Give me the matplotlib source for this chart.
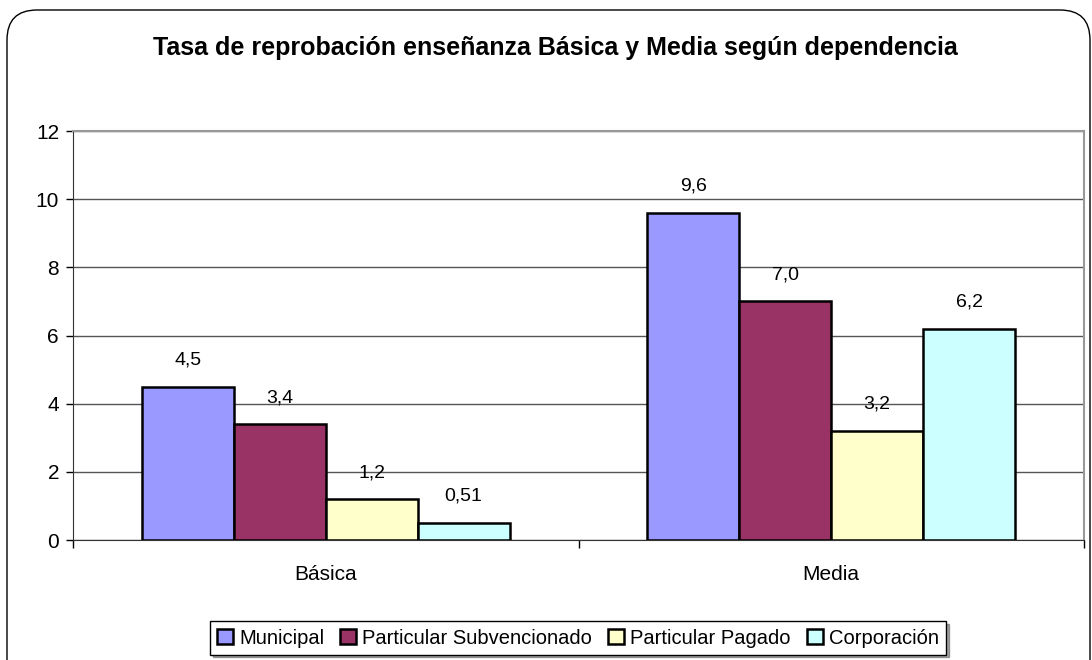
import numpy as np
import matplotlib
matplotlib.use("Agg")
import matplotlib.pyplot as plt
from matplotlib import font_manager
from matplotlib.patches import FancyBboxPatch, Patch
from matplotlib.transforms import IdentityTransform

# data
categories = ['Básica', 'Media']
series = ['Municipal', 'Particular Subvencionado', 'Particular Pagado', 'Corporación']
municipal = [4.5, 9.6]
subvencionado = [3.4, 7.0]
pagado = [1.2, 3.2]
corporacion = [0.51, 6.2]
value_labels = [['4,5', '9,6'], ['3,4', '7,0'], ['1,2', '3,2'], ['0,51', '6,2']]
colors = ['#9999FF', '#993366', '#FFFFCC', '#CCFFFF']

names = {f.name for f in font_manager.fontManager.ttflist}
if 'Liberation Sans Narrow' in names:
    base = 'Liberation Sans Narrow'
else:
    base = 'Liberation Sans'
plt.rcParams['font.family'] = [base, 'DejaVu Sans']

fig = plt.figure(figsize=(10.92, 6.6), dpi=100)
W, H = 1092, 660

# outer rounded frame, pixel coordinates
frame = FancyBboxPatch((7, -40), 1083, 690, boxstyle='round,pad=0,rounding_size=30',
                       transform=IdentityTransform(), facecolor='none',
                       edgecolor='black', linewidth=1.0, zorder=0)
fig.patches.append(frame)

ax = fig.add_axes([73 / W, 1 - 540 / H, (1084 - 73) / W, (540 - 131) / H])
ax.set_facecolor('none')

data = [municipal, subvencionado, pagado, corporacion]
x = np.arange(len(categories))
width = 1 / 5.5
for i, vals in enumerate(data):
    pos = x + (i - 1.5) * width
    ax.bar(pos, vals, width=width, color=colors[i], edgecolor='black',
           linewidth=1.8, zorder=3, label=series[i])
    for xp, v, lab in zip(pos, vals, value_labels[i]):
        ax.annotate(lab, (xp, v), xytext=(0, 13), textcoords='offset points',
                    ha='center', va='bottom', fontsize=14)

ax.set_xlim(-0.5, 1.5)
ax.set_ylim(0, 12)
ax.set_yticks(range(0, 13, 2))
ax.yaxis.grid(True, color='#555555', linewidth=1.0, zorder=1)
ax.tick_params(axis='y', labelsize=15, length=5, width=1, direction='out', pad=5)

ax.set_xticks([-0.5, 0.5, 1.5])
ax.set_xticklabels([])
ax.tick_params(axis='x', length=6, width=1, direction='out')
for xc, c in zip(x, categories):
    ax.text(xc, -1.0, c, ha='center', va='center', fontsize=15)

for s in ['top', 'right']:
    ax.spines[s].set_color('#999999')
    ax.spines[s].set_linewidth(1.5)
ax.spines['left'].set_color('#333333')
ax.spines['bottom'].set_color('#333333')

fig.text(555 / W, 1 - 48 / H, 'Tasa de reprobación enseñanza Básica y Media según dependencia',
         ha='center', va='center', fontsize=18, fontweight='bold')

handles = [Patch(facecolor=c, edgecolor='black', linewidth=1.8) for c in colors]
leg = fig.legend(handles, series, loc='center', bbox_to_anchor=(578 / W, 1 - 638 / H),
                 ncol=4, fontsize=14.5, frameon=True, fancybox=False, shadow=True,
                 handlelength=0.8, handleheight=0.8, handletextpad=0.3,
                 columnspacing=0.8, borderpad=0.35, borderaxespad=0)
leg.get_frame().set_edgecolor('black')
leg.get_frame().set_linewidth(1.0)

fig.savefig('out.png', dpi=100)
